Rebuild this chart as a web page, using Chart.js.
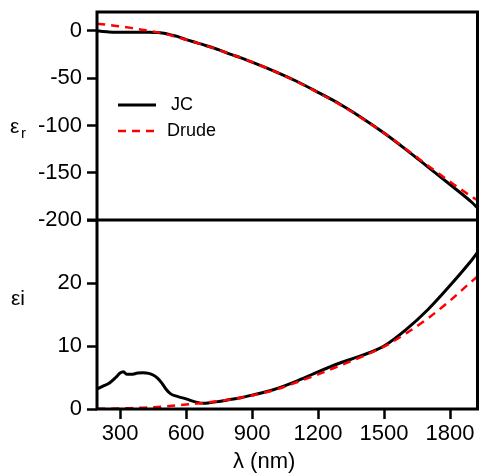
<!DOCTYPE html>
<html>
<head>
<meta charset="utf-8">
<script src="https://cdn.jsdelivr.net/npm/chart.js@4.4.1/dist/chart.umd.min.js"></script>
<style>
  body { margin: 0; background: #fff; }
  #wrap { width: 479px; height: 473px; }
</style>
</head>
<body>
<div id="wrap"><canvas id="epsChart" width="479" height="473"></canvas></div>
<script>
// Johnson & Christy (gold)
const jcLambda = [196, 220, 250, 280, 300, 315, 330, 350, 380, 405, 430, 450, 470, 490, 510, 530, 560, 600, 650, 680, 700, 750, 800, 850, 900, 1000, 1100, 1200, 1300, 1400, 1500, 1600, 1700, 1800, 1900, 1924];
const jcEpsR = [0, -0.6, -1.2, -1.4, -1.4, -1.4, -1.4, -1.4, -1.4, -1.4, -1.5, -1.6, -1.8, -2.2, -3.0, -4.2, -5.8, -9.2, -12.6, -14.8, -16.2, -20, -24.5, -28.5, -33, -42.5, -53, -65, -77.5, -92, -108, -125.5, -144, -162.5, -181.5, -187];
const jcEpsI = [3.2, 3.6, 4.1, 5.0, 5.7, 5.9, 5.5, 5.5, 5.7, 5.75, 5.65, 5.4, 4.9, 4.1, 3.1, 2.4, 2.0, 1.6, 1.05, 0.9, 0.95, 1.2, 1.5, 1.8, 2.2, 3.1, 4.4, 5.9, 7.3, 8.5, 10.0, 12.6, 15.8, 19.6, 23.7, 24.8];

// Drude fit
const drudeLambda = [196, 250, 300, 350, 400, 450, 500, 600, 700, 800, 900, 1000, 1100, 1200, 1300, 1400, 1500, 1600, 1700, 1800, 1900, 1924];
const drudeEpsR = [7.6, 6.2, 4.9, 3.2, 1.3, -0.6, -2.8, -9.3, -16.3, -24.3, -33, -42.5, -53.3, -65.3, -78, -92.5, -108, -125, -142.5, -159.5, -175.5, -179];
const drudeEpsI = [0.02, 0.04, 0.08, 0.13, 0.2, 0.28, 0.4, 0.7, 1.05, 1.5, 2.15, 3.0, 4.2, 5.5, 6.9, 8.3, 9.9, 12.0, 14.4, 17.2, 20.3, 21.0];

const xTicks = [300, 600, 900, 1200, 1500, 1800];
const rTicks = [0, -50, -100, -150, -200];
const iTicks = [0, 10, 20];

const FONT = "'Liberation Sans', Arial, sans-serif";

function toPoints(xs, ys) {
  return xs.map((x, i) => ({ x: x, y: ys[i] }));
}

function fixedTicks(values) {
  return scale => { scale.ticks = values.map(v => ({ value: v })); };
}

// y axes share one fixed width, no label overhang padding
function fitY(s) {
  s.width = 97;
  s.paddingTop = 0;
  s.paddingBottom = 0;
}

const tickGrid = {
  display: true,
  drawOnChartArea: false,
  drawTicks: true,
  tickLength: 10,
  tickWidth: 2.5,
  tickColor: "#000"
};

const tickFont = { size: 22, family: FONT };

// frame, divider, titles and legend
const framePlugin = {
  id: "frame",
  afterDraw(chart) {
    const ctx = chart.ctx;
    const a = chart.chartArea;
    const yR = chart.scales.yR;
    ctx.save();
    ctx.strokeStyle = "#000";
    ctx.lineWidth = 3;
    ctx.strokeRect(a.left, a.top, a.right - a.left, a.bottom - a.top);
    ctx.beginPath();
    ctx.moveTo(a.left - 10, yR.bottom);
    ctx.lineTo(a.right, yR.bottom);
    ctx.stroke();

    ctx.fillStyle = "#000";
    ctx.textBaseline = "middle";
    ctx.textAlign = "left";
    ctx.font = "21px " + FONT;
    ctx.fillText("ε", 10, 127);
    ctx.font = "15px " + FONT;
    ctx.fillText("r", 21, 134);
    ctx.font = "21px " + FONT;
    ctx.fillText("εi", 11, 299);
    ctx.font = "22px " + FONT;
    ctx.fillText("λ (nm)", 233, 462);

    // legend
    ctx.lineWidth = 3;
    ctx.beginPath();
    ctx.moveTo(118, 105);
    ctx.lineTo(156, 105);
    ctx.stroke();
    ctx.strokeStyle = "#ff0000";
    ctx.lineWidth = 2.5;
    ctx.setLineDash([8, 6]);
    ctx.beginPath();
    ctx.moveTo(118, 131);
    ctx.lineTo(158, 131);
    ctx.stroke();
    ctx.setLineDash([]);
    ctx.font = "18px " + FONT;
    ctx.fillText("JC", 171, 105);
    ctx.fillText("Drude", 167, 131);
    ctx.restore();
  }
};

new Chart(document.getElementById("epsChart"), {
  type: "line",
  data: {
    datasets: [
      {
        label: "Drude εi",
        data: toPoints(drudeLambda, drudeEpsI),
        yAxisID: "yI",
        borderColor: "#ff0000",
        borderWidth: 2.5,
        borderDash: [8, 6],
        order: 0
      },
      {
        label: "Drude εr",
        data: toPoints(drudeLambda, drudeEpsR),
        yAxisID: "yR",
        borderColor: "#ff0000",
        borderWidth: 2.5,
        borderDash: [8, 6],
        order: 0
      },
      {
        label: "JC εi",
        data: toPoints(jcLambda, jcEpsI),
        yAxisID: "yI",
        borderColor: "#000",
        borderWidth: 3,
        order: 1
      },
      {
        label: "JC εr",
        data: toPoints(jcLambda, jcEpsR),
        yAxisID: "yR",
        borderColor: "#000",
        borderWidth: 3,
        order: 1
      }
    ]
  },
  options: {
    responsive: false,
    animation: false,
    elements: {
      point: { radius: 0 },
      line: { cubicInterpolationMode: "monotone", fill: false }
    },
    layout: { padding: { left: 0, right: 1.5, top: 12, bottom: 0 } },
    plugins: {
      legend: { display: false },
      tooltip: { enabled: false }
    },
    scales: {
      x: {
        type: "linear",
        min: 195,
        max: 1925,
        afterBuildTicks: fixedTicks(xTicks),
        afterFit: s => { s.height = 64; s.paddingLeft = 0; s.paddingRight = 0; },
        grid: tickGrid,
        border: { display: false },
        ticks: { color: "#000", padding: 2, font: tickFont, callback: v => String(v) }
      },
      yI: {
        type: "linear",
        position: "left",
        stack: "panels",
        stackWeight: 189,
        min: 0,
        max: 30,
        afterBuildTicks: fixedTicks(iTicks),
        afterFit: fitY,
        grid: tickGrid,
        border: { display: false },
        ticks: { color: "#000", padding: 5, font: tickFont, callback: v => String(v) }
      },
      yR: {
        type: "linear",
        position: "left",
        stack: "panels",
        stackWeight: 208,
        min: -200,
        max: 20,
        afterBuildTicks: fixedTicks(rTicks),
        afterFit: fitY,
        grid: tickGrid,
        border: { display: false },
        ticks: { color: "#000", padding: 5, font: tickFont, callback: v => String(v) }
      }
    }
  },
  plugins: [framePlugin]
});
</script>
</body>
</html>
